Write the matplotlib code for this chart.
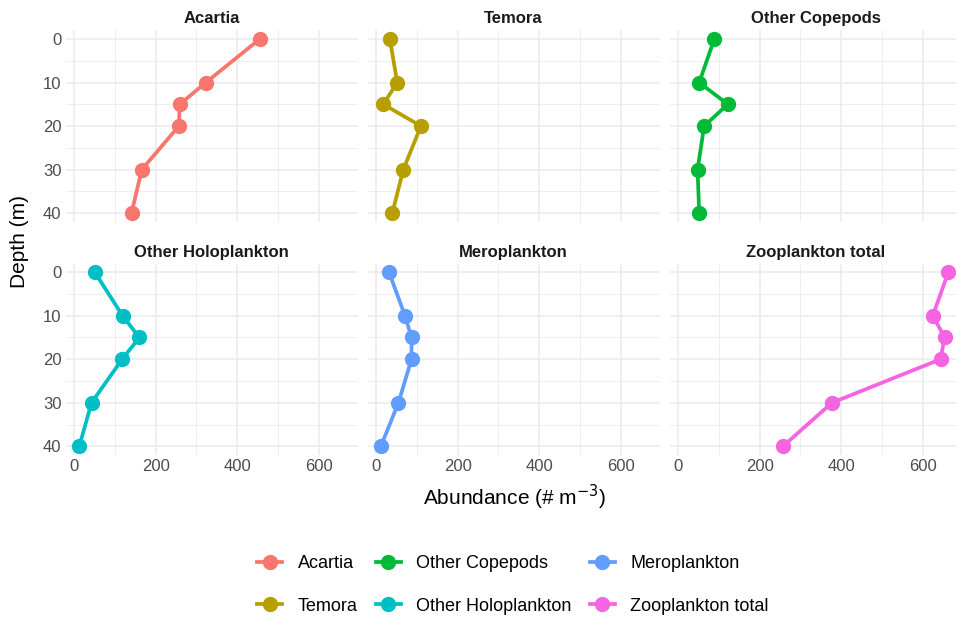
import matplotlib
matplotlib.use("Agg")
import matplotlib.pyplot as plt
from matplotlib.lines import Line2D

plt.rcParams["font.family"] = ["Liberation Sans", "DejaVu Sans"]

# data
DEPTH = [0, 10, 15, 20, 30, 40]
GROUPS = ["Acartia", "Temora", "Other Copepods",
          "Other Holoplankton", "Meroplankton", "Zooplankton total"]
ACARTIA = [455, 323, 259, 257, 166, 141]
TEMORA = [34, 52, 18, 110, 67, 40]
OTHER_COPEPODS = [89, 52, 122, 64, 48, 52]
OTHER_HOLO = [51, 119, 160, 118, 43, 13]
MERO = [32, 71, 87, 87, 55, 12]
TOTAL = [662, 624, 653, 643, 377, 257]
VALUES = [ACARTIA, TEMORA, OTHER_COPEPODS, OTHER_HOLO, MERO, TOTAL]
COLORS = ["#F8766D", "#B79F00", "#00BA38", "#00BFC4", "#619CFF", "#F564E3"]

X_TICKS = [0, 200, 400, 600]
Y_TICKS = [0, 10, 20, 30, 40]

W, H = 956, 617
fig = plt.figure(figsize=(W / 100, H / 100), dpi=100)

PW, PH = 292, 191.5
LEFTS = [65.6, 367.6, 669.6]
TOPS = [30.3, 263.5]

def px_rect(left, top, w, h):
    return [left / W, 1 - (top + h) / H, w / W, h / H]

for i, (name, vals, col) in enumerate(zip(GROUPS, VALUES, COLORS)):
    r, c = divmod(i, 3)
    ax = fig.add_axes(px_rect(LEFTS[c], TOPS[r], PW, PH))
    ax.set_xlim(-20.5, 694.5)
    ax.set_ylim(42, -2)
    ax.set_xticks(X_TICKS)
    ax.set_xticks([100, 300, 500], minor=True)
    ax.set_yticks(Y_TICKS)
    ax.set_yticks([5, 15, 25, 35], minor=True)
    ax.grid(True, which="major", color="#EBEBEB", linewidth=1.1)
    ax.grid(True, which="minor", color="#EBEBEB", linewidth=0.6)
    ax.set_axisbelow(True)
    for s in ax.spines.values():
        s.set_visible(False)
    ax.tick_params(which="both", length=0, labelsize=12, labelcolor="#4D4D4D", pad=3)
    if r == 0:
        ax.tick_params(labelbottom=False)
    if c != 0:
        ax.tick_params(labelleft=False)
    ax.plot(vals, DEPTH, color=col, linewidth=2.7, marker="o", markersize=10,
            solid_capstyle="round", clip_on=False)
    ax.set_title(name, fontsize=12, fontweight="bold", color="#1A1A1A", pad=5)

fig.text(20 / W, 1 - 242 / H, "Depth (m)", rotation=90, ha="center", va="center",
         fontsize=15, color="black")
fig.text(515 / W, 1 - 497 / H, "Abundance (# m$^{-3}$)", ha="center", va="center",
         fontsize=15, color="black")

handles = [Line2D([0], [0], color=c, linewidth=2.7, marker="o", markersize=10)
           for c in COLORS]
fig.legend(handles, GROUPS, ncol=3, loc="center", bbox_to_anchor=(513 / W, 1 - 585 / H),
           frameon=False, fontsize=13, handlelength=1.4, handletextpad=0.85,
           columnspacing=1.0, labelspacing=1.4)

fig.savefig("out.png", dpi=100)
